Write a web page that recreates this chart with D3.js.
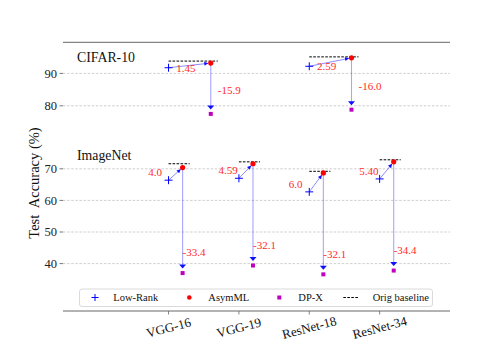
<!DOCTYPE html>
<html><head><meta charset="utf-8">
<script src="https://cdn.jsdelivr.net/npm/d3@7"></script>
<style>body{margin:0;background:#fff}svg{display:block}text{font-family:"Liberation Serif","Times New Roman",serif}</style>
</head><body><svg id="c" width="500" height="350"></svg>
<script>
const models = ["VGG-16","VGG-19","ResNet-18","ResNet-34"];
const cifarLowRank  = [91.75, null, 92.2, null];
const cifarAsymML   = [93.2,  null, 94.8, null];
const cifarDPX      = [77.5,  null, 78.8, null];
const cifarBaseline = [93.8,  null, 95.1, null];
const cifarGain     = ["1.45", null, "2.59", null];
const cifarDrop     = ["-15.9", null, "-16.0", null];
const imagenetLowRank  = [66.4, 67.0, 62.7, 66.8];
const imagenetAsymML   = [70.4, 71.6, 68.7, 72.2];
const imagenetDPX      = [37.0, 39.4, 36.6, 37.8];
const imagenetBaseline = [71.6, 72.2, 69.2, 72.85];
const imagenetGain     = ["4.0","4.59","6.0","5.40"];
const imagenetDrop     = ["-33.4","-32.1","-32.1","-34.4"];
const cifarTicks = [80, 90];
const imagenetTicks = [40, 50, 60, 70];
const legendLabels = ["Low-Rank","AsymML","DP-X","Orig baseline"];

const svg = d3.select("#c");
const L = 63, R = 450;
const x = d3.scaleLinear().domain([-1.5, 4.0]).range([L, R]);
const yTop = d3.scaleLinear().domain([75, 99.6]).range([122, 42.3]);
const yBot = d3.scaleLinear().domain([25, 75]).range([311, 153]);

const defs = svg.append("defs");

function gridAndTicks(y, ticks){
  const g = svg.append("g");
  ticks.forEach(t=>{
    g.append("line").attr("x1",L).attr("x2",R).attr("y1",y(t)).attr("y2",y(t))
      .attr("stroke","#c4c4c4").attr("stroke-width",0.8).attr("stroke-dasharray","2.5,1.6");
    g.append("line").attr("x1",L-3.5).attr("x2",L).attr("y1",y(t)).attr("y2",y(t))
      .attr("stroke","#555").attr("stroke-width",0.8);
    g.append("text").attr("x",L-6).attr("y",y(t)).attr("dy","0.35em").attr("text-anchor","end")
      .attr("font-size",12.5).attr("fill","#222").text(t);
  });
}
gridAndTicks(yTop, cifarTicks);
gridAndTicks(yBot, imagenetTicks);

// spines
svg.append("line").attr("x1",L).attr("x2",R).attr("y1",42.3).attr("y2",42.3).attr("stroke","#666").attr("stroke-width",1);
svg.append("line").attr("x1",L).attr("x2",R).attr("y1",311).attr("y2",311).attr("stroke","#666").attr("stroke-width",1);
models.forEach((m,i)=>{
  svg.append("line").attr("x1",x(i)).attr("x2",x(i)).attr("y1",311).attr("y2",314.5).attr("stroke","#666").attr("stroke-width",0.8);
  svg.append("text").attr("transform",`translate(${x(i)},327.5) rotate(-15)`)
    .attr("text-anchor","middle").attr("dy","0.35em").attr("font-size",13).attr("fill","#111").text(m);
});

function arrowHead(g, x1,y1,x2,y2, w, len){
  const a = Math.atan2(y2-y1, x2-x1);
  const bx = x2 - len*Math.cos(a), by = y2 - len*Math.sin(a);
  const px = -Math.sin(a)*w/2, py = Math.cos(a)*w/2;
  g.append("path").attr("d",`M${x2},${y2}L${bx+px},${by+py}L${bx-px},${by-py}Z`).attr("fill","#1010ff");
}

function panel(y, lr, asym, dpx, base, gain, drop, asymOff, baseEnd, gainPos, dropPos){
  const g = svg.append("g");
  models.forEach((m,i)=>{
    if(asym[i]==null) return;
    const xl = x(i), yl = y(lr[i]);
    const xa = x(i+asymOff), ya = y(asym[i]);
    const yd = y(dpx[i]);
    // baseline
    g.append("line").attr("x1",x(i)).attr("x2",x(i+baseEnd)).attr("y1",y(base[i])).attr("y2",y(base[i]))
      .attr("stroke","#000").attr("stroke-width",1).attr("stroke-dasharray","2.6,1.4");
    // gain arrow
    const a = Math.atan2(ya-yl, xa-xl);
    const ex = xa - 2.5*Math.cos(a), ey = ya - 2.5*Math.sin(a);
    g.append("line").attr("x1",xl).attr("y1",yl).attr("x2",ex).attr("y2",ey)
      .attr("stroke","#0000ff").attr("stroke-opacity",0.45).attr("stroke-width",1);
    arrowHead(g, xl,yl,ex,ey,4,4);
    // drop arrow
    g.append("line").attr("x1",xa).attr("y1",ya).attr("x2",xa).attr("y2",yd-5)
      .attr("stroke","#0000ff").attr("stroke-opacity",0.35).attr("stroke-width",1.1);
    arrowHead(g, xa,ya,xa,yd-4.5,7,4);
    // markers
    g.append("path").attr("d",`M${xl-4},${yl}H${xl+4}M${xl},${yl-4}V${yl+4}`).attr("stroke","#0000ff").attr("stroke-width",1);
    g.append("circle").attr("cx",xa).attr("cy",ya).attr("r",2.6).attr("fill","#ff0000");
    g.append("rect").attr("x",xa-2).attr("y",yd-2).attr("width",4).attr("height",4).attr("fill","#bf00bf");
    // labels
    g.append("text").attr("x",x(i+gainPos[0])).attr("y",y(lr[i]+gainPos[1]))
      .attr("font-size",11).attr("fill","#ff2a2a").text(gain[i]);
    g.append("text").attr("x",x(i+dropPos[0])).attr("y",y(dpx[i]+dropPos[1]))
      .attr("font-size",11).attr("fill","#ff2a2a").text(drop[i]);
  });
}
panel(yTop, cifarLowRank, cifarAsymML, cifarDPX, cifarBaseline, cifarGain, cifarDrop, 0.6, 0.7, [0.11,-1.25], [0.7,6]);
panel(yBot, imagenetLowRank, imagenetAsymML, imagenetDPX, imagenetBaseline, imagenetGain, imagenetDrop, 0.2, 0.3, [-0.29,1.3], [0.2,5.3]);

svg.append("text").attr("x",77).attr("y",62.3).attr("font-size",13.8).attr("fill","#111").text("CIFAR-10");
svg.append("text").attr("x",77).attr("y",160).attr("font-size",13.8).attr("fill","#111").text("ImageNet");

svg.append("text").attr("transform","translate(39,183) rotate(-90)").attr("text-anchor","middle")
  .attr("font-size",14.5).attr("fill","#111").attr("xml:space","preserve").style("white-space","pre").text("Test  Accuracy (%)");

// legend
const lg = svg.append("g");
lg.append("rect").attr("x",79.5).attr("y",289).attr("width",353).attr("height",17.5).attr("rx",2.5)
  .attr("fill","#fff").attr("fill-opacity",0.85).attr("stroke","#d0d0d0").attr("stroke-width",0.8);
const ly = 297.5;
const lx = [95, 189.3, 279.3, 351.3];
const tx = [113.3, 208.3, 298.3, 372.7];
lg.append("path").attr("d",`M${lx[0]-3.5},${ly}H${lx[0]+3.5}M${lx[0]},${ly-3.5}V${ly+3.5}`).attr("stroke","#0000ff").attr("stroke-width",1);
lg.append("circle").attr("cx",lx[1]).attr("cy",ly).attr("r",2.3).attr("fill","#ff0000");
lg.append("rect").attr("x",lx[2]-2).attr("y",ly-2).attr("width",4).attr("height",4).attr("fill","#bf00bf");
lg.append("line").attr("x1",lx[3]-8).attr("x2",lx[3]+8).attr("y1",ly).attr("y2",ly).attr("stroke","#000").attr("stroke-width",1).attr("stroke-dasharray","2.6,1.4");
legendLabels.forEach((t,k)=>{
  lg.append("text").attr("x",tx[k]).attr("y",ly).attr("dy","0.35em").attr("font-size",10.5).attr("fill","#111").text(t);
});
</script></body></html>
